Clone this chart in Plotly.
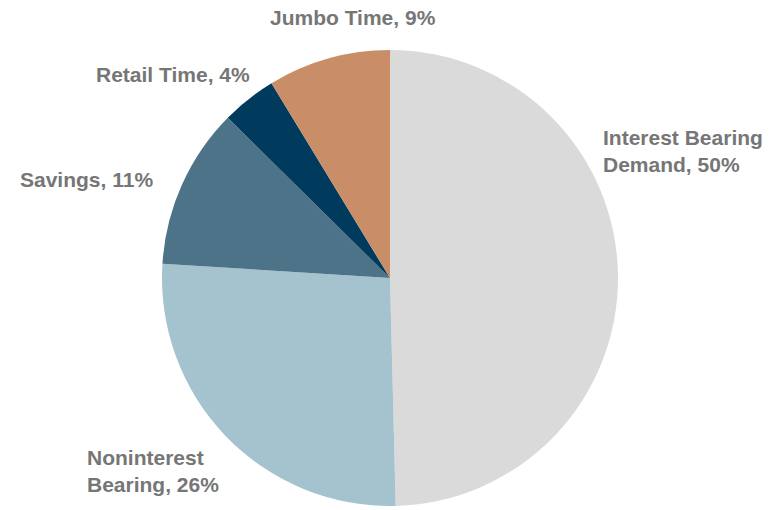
import plotly.graph_objects as go

labels = ["Interest Bearing Demand", "Noninterest Bearing", "Savings", "Retail Time", "Jumbo Time"]
values = [49.6, 26.4, 11.4, 3.9, 8.7]
pct_labels = ["50%", "26%", "11%", "4%", "9%"]
label_text = ["Interest Bearing<br>Demand", "Noninterest<br>Bearing", "Savings", "Retail Time", "Jumbo Time"]
colors = ["#DADADA", "#A5C3CE", "#4D7389", "#003A5C", "#C98D67"]

W, H = 769, 510
cx, cy, r = 390, 278, 228

fig = go.Figure(go.Pie(
    labels=labels, values=values, sort=False, direction="clockwise", rotation=0,
    marker=dict(colors=colors, line=dict(width=0)),
    textinfo="none", hoverinfo="label+percent", showlegend=False,
    domain=dict(x=[(cx - r) / W, (cx + r) / W], y=[(H - cy - r) / H, (H - cy + r) / H]),
))

# label positions (pixel anchors) and alignment
pos = [
    (601, 151, "left", "middle"),
    (85, 471, "left", "middle"),
    (155, 179, "right", "middle"),
    (252, 74, "right", "middle"),
    (353, 18, "center", "middle"),
]
for (px, py, xa, ya), t, p in zip(pos, label_text, pct_labels):
    fig.add_annotation(
        x=px / W, y=1 - py / H, xref="paper", yref="paper",
        text=f"{t}, {p}", showarrow=False, xanchor=xa, yanchor=ya, align="left",
        font=dict(family="Liberation Sans, Arial, sans-serif", size=21, color="#767676", weight="bold"),
    )

fig.update_layout(
    width=W, height=H, margin=dict(l=0, r=0, t=0, b=0),
    paper_bgcolor="white", plot_bgcolor="white",
    font=dict(family="Liberation Sans, Arial, sans-serif"),
)

fig.write_html("out.html", config={"displayModeBar": False},
               post_script="document.body.style.margin='0';")
